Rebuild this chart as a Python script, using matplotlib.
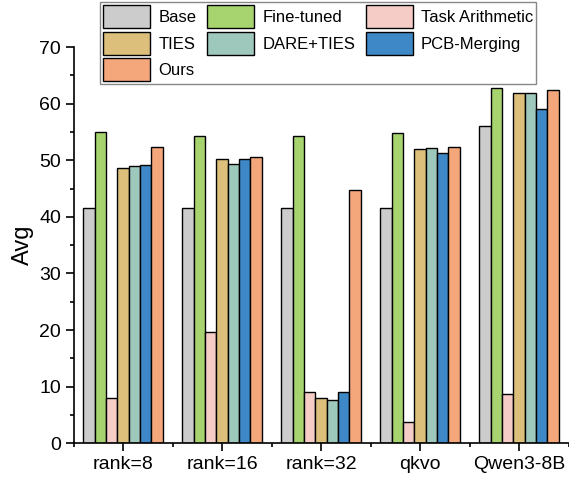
import numpy as np
import matplotlib.pyplot as plt
from matplotlib.ticker import MultipleLocator

plt.rcParams['font.family'] = ['Liberation Sans', 'DejaVu Sans']

categories = ["rank=8", "rank=16", "rank=32", "qkvo", "Qwen3-8B"]
methods = ["Base", "Fine-tuned", "Task Arithmetic", "TIES", "DARE+TIES", "PCB-Merging", "Ours"]

base = [41.6, 41.6, 41.6, 41.6, 56.1]
fine_tuned = [54.9, 54.3, 54.2, 54.8, 62.8]
task_arith = [7.95, 19.6, 9.0, 3.8, 8.65]
ties = [48.6, 50.3, 7.95, 52.05, 61.8]
dare_ties = [48.9, 49.3, 7.6, 52.2, 61.8]
pcb = [49.2, 50.3, 9.0, 51.2, 59.0]
ours = [52.4, 50.5, 44.75, 52.4, 62.4]

series = [base, fine_tuned, task_arith, ties, dare_ties, pcb, ours]
colors = ["#cccccc", "#a8d46f", "#f5cdc6", "#dbbf7a", "#9ec8bb", "#3f88c8", "#f4a77a"]

fig = plt.figure(figsize=(5.69, 4.79), dpi=100)
ax = fig.add_axes([73.5/569, 1-443.3/479, 495/569, 396.3/479])

x = np.arange(len(categories))
w = 0.114
handles = []
for i, (vals, c, m) in enumerate(zip(series, colors, methods)):
    b = ax.bar(x + (i - 3) * w, vals, w, color=c, edgecolor="black", linewidth=1.0, label=m)
    handles.append(b)

ax.set_xlim(-0.5, 4.5)
ax.set_ylim(0, 70)
ax.set_xticks(x)
ax.set_xticklabels(categories, fontsize=14)
ax.xaxis.set_minor_locator(MultipleLocator(1, offset=0.5))
ax.yaxis.set_major_locator(MultipleLocator(10))
ax.yaxis.set_minor_locator(MultipleLocator(5))
ax.tick_params(axis="both", which="major", labelsize=14, length=6, width=1.2, pad=3)
ax.tick_params(axis="both", which="minor", length=3, width=1.2)
ax.set_ylabel("Avg", fontsize=17, labelpad=4)

for s in ["top", "right"]:
    ax.spines[s].set_visible(False)
for s in ["left", "bottom"]:
    ax.spines[s].set_linewidth(1.2)

# legend is filled column by column, so reorder to get the row layout
order = [0, 3, 6, 1, 4, 2, 5]
leg = fig.legend([handles[i] for i in order], [methods[i] for i in order],
                 loc="upper left", bbox_to_anchor=(100/569, 1-2/479),
                 bbox_transform=fig.transFigure, ncol=3, fontsize=12,
                 handlelength=2.8, handleheight=1.75, labelspacing=0.2,
                 handletextpad=0.5, columnspacing=0.65, borderpad=0.2,
                 borderaxespad=0, fancybox=False, framealpha=1)
leg.get_frame().set_edgecolor("#888888")
leg.get_frame().set_linewidth(1.0)

fig.savefig("out.png", dpi=100)
